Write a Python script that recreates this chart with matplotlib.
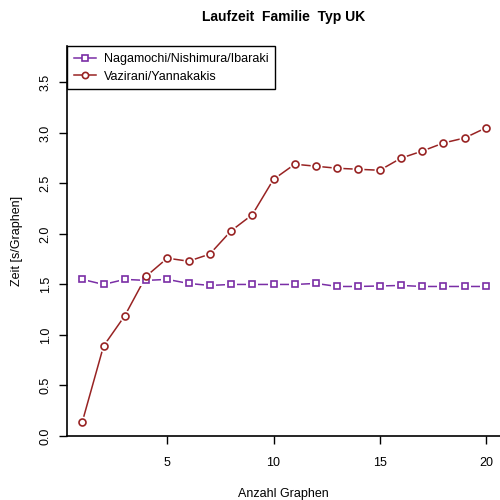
import matplotlib
matplotlib.use("Agg")
import matplotlib.pyplot as plt

plt.rcParams['font.family'] = ['Liberation Sans', 'DejaVu Sans']

anzahl = list(range(1, 21))
nagamochi = [1.55, 1.50, 1.55, 1.54, 1.55, 1.51, 1.49, 1.50, 1.50, 1.50,
             1.50, 1.51, 1.48, 1.48, 1.485, 1.49, 1.48, 1.48, 1.48, 1.48]
vazirani = [0.14, 0.89, 1.19, 1.58, 1.76, 1.73, 1.80, 2.03, 2.19, 2.54,
            2.69, 2.67, 2.65, 2.64, 2.63, 2.75, 2.82, 2.90, 2.95, 3.05]
series_names = ["Nagamochi/Nishimura/Ibaraki", "Vazirani/Yannakakis"]
y_ticks = [0.0, 0.5, 1.0, 1.5, 2.0, 2.5, 3.0, 3.5]
x_ticks = [5, 10, 15, 20]

col_purple = "#7A2EA6"
col_red = "#982323"

fig = plt.figure(figsize=(5, 5), dpi=100)
ax = fig.add_axes([67 / 500, 64 / 500, 433 / 500, 390 / 500])


def draw_series(x, y, color, marker, label):
    # line, then a white halo around each point, then the open marker
    ax.plot(x, y, color=color, lw=1.1, zorder=2)
    ax.plot(x, y, ls="none", marker=marker, ms=8.5, mfc="white", mec="white",
            mew=0, zorder=3)
    ax.plot(x, y, ls="none", marker=marker, ms=5, mfc="white", mec=color,
            mew=1.2, zorder=4)
    return ax.plot([], [], color=color, lw=1.1, marker=marker, ms=4.5,
                   mfc="white", mec=color, mew=1.2, label=label)[0]


h1 = draw_series(anzahl, nagamochi, col_purple, "s", series_names[0])
h2 = draw_series(anzahl, vazirani, col_red, "o", series_names[1])

ax.set_xlim(0.28, 20.66)
ax.set_ylim(0, 3.86)
ax.set_xticks(x_ticks)
ax.set_yticks(y_ticks)
ax.set_yticklabels([f"{v:.1f}" for v in y_ticks], rotation=90, va="center")
ax.tick_params(direction="out", length=6, width=1, labelsize=9, pad=5)
ax.tick_params(axis="x", pad=9)
for s in ["top", "right"]:
    ax.spines[s].set_visible(False)
for s in ["left", "bottom"]:
    ax.spines[s].set_linewidth(1.2)

ax.set_title("Laufzeit  Familie  Typ UK", fontsize=10, fontweight="bold", pad=18)
ax.set_xlabel("Anzahl Graphen", fontsize=9, labelpad=14)
ax.set_ylabel("Zeit [s/Graphen]", fontsize=9, labelpad=12)

leg = ax.legend(handles=[h1, h2], loc="upper left", bbox_to_anchor=(0, 1),
                borderaxespad=0, fancybox=False, edgecolor="black",
                framealpha=1, fontsize=9, handlelength=1.8,
                handletextpad=0.6, borderpad=0.55, labelspacing=0.45)
leg.get_frame().set_linewidth(1.0)

fig.savefig("out.png", dpi=100)
